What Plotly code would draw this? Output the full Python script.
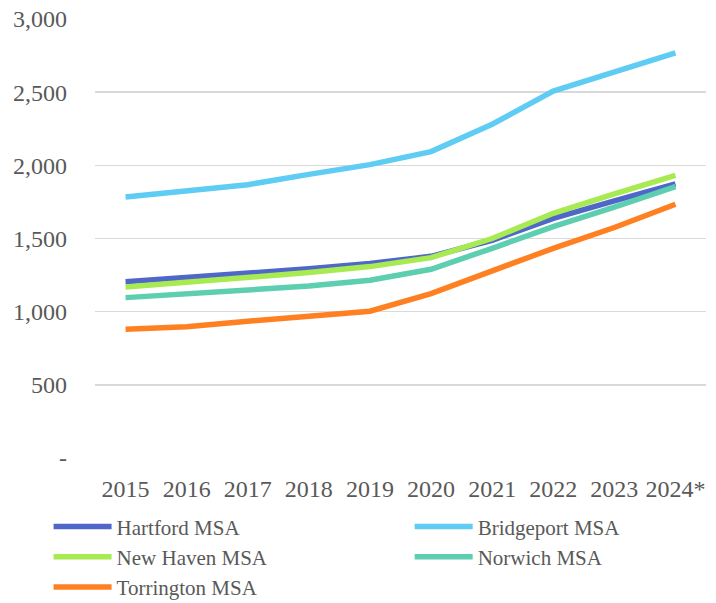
import plotly.graph_objects as go

years = ["2015", "2016", "2017", "2018", "2019", "2020", "2021", "2022", "2023", "2024*"]
hartford = [1205, 1232, 1262, 1293, 1330, 1378, 1488, 1638, 1757, 1873]
bridgeport = [1784, 1825, 1868, 1938, 2005, 2094, 2281, 2508, 2638, 2768]
new_haven = [1169, 1200, 1232, 1267, 1308, 1369, 1500, 1672, 1805, 1932]
norwich = [1096, 1125, 1150, 1175, 1215, 1290, 1433, 1581, 1715, 1854]
torrington = [880, 897, 935, 970, 1003, 1124, 1280, 1433, 1575, 1734]

y_ticks = [0, 500, 1000, 1500, 2000, 2500, 3000]
y_tick_text = ["-", "500", "1,000", "1,500", "2,000", "2,500", "3,000"]

series = [
    ("Hartford MSA", hartford, "#4E67C8", "legend"),
    ("Bridgeport MSA", bridgeport, "#5ECCF3", "legend2"),
    ("New Haven MSA", new_haven, "#A7EA52", "legend"),
    ("Norwich MSA", norwich, "#5DCEAF", "legend2"),
    ("Torrington MSA", torrington, "#FF8021", "legend"),
]

fig = go.Figure()
for name, vals, color, leg in series:
    fig.add_trace(go.Scatter(x=years, y=vals, name=name, mode="lines", legend=leg,
                             line=dict(color=color, width=5.5)))

font_family = "Liberation Serif, DejaVu Serif, serif"
legend_common = dict(orientation="v", xanchor="left", yanchor="top",
                     font=dict(size=21, color="#595959", family=font_family),
                     itemwidth=58, bgcolor="rgba(0,0,0,0)", borderwidth=0,
                     tracegroupgap=0)
fig.update_layout(
    width=716, height=603,
    margin=dict(l=95, r=10, t=19, b=145, autoexpand=False),
    paper_bgcolor="white", plot_bgcolor="white",
    font=dict(family=font_family, size=24, color="#595959"),
    showlegend=True,
    legend=dict(x=-0.076, y=-0.11, **legend_common),
    legend2=dict(x=0.515, y=-0.11, **legend_common),
    xaxis=dict(type="category", range=[-0.5, len(years) - 0.5],
               showgrid=False, showline=False, zeroline=False,
               ticks="", ticklabelstandoff=14, tickfont=dict(size=24),
               ticklabeloverflow="allow"),
    yaxis=dict(range=[0, 3000], tickvals=y_ticks, ticktext=y_tick_text,
               showgrid=True, gridcolor="#D9D9D9", gridwidth=1.5, zeroline=False,
               showline=False, ticks="", ticklabelstandoff=27, tickfont=dict(size=24),
               ticklabeloverflow="allow"),
)

# remove the default page margin so the 716x603 figure fills the window exactly
fig.write_html(
    "out.html",
    config={"displayModeBar": False, "staticPlot": True},
    post_script="document.body.style.margin='0';"
                "document.body.style.overflow='hidden';"
                "document.documentElement.style.overflow='hidden';",
)
